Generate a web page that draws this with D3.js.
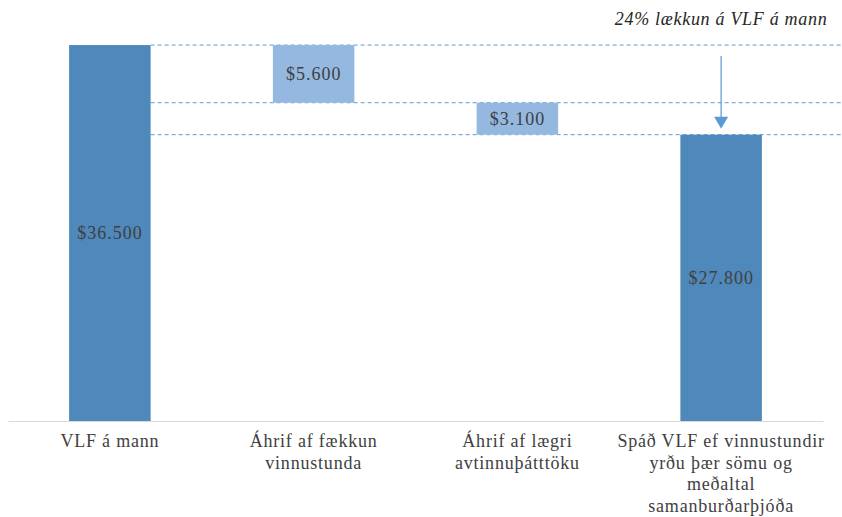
<!DOCTYPE html>
<html lang="is">
<head>
	<title> VLF á mann </title>
	<meta charset="utf-8">
	<script src="https://d3js.org/d3.v7.min.js"></script>
</head>
<style>
	body { margin: 0; background: #fff; }
	svg text { font-family: "Liberation Serif", "Times New Roman", serif; }
	.axis--x path { stroke: #d9d9d9; }
	.axis--x .tick line { display: none; }
</style>
<body>
	<svg id="waterfall" width="842" height="517"></svg>
	<script>
		// flokkar og gildi
		var categories = [
			["VLF á mann"],
			["Áhrif af fækkun", "vinnustunda"],
			["Áhrif af lægri", "avtinnuþátttöku"],
			["Spáð VLF ef vinnustundir", "yrðu þær sömu og", "meðaltal", "samanburðarþjóða"]
		];
		var values = [36500, -5600, -3100, 27800];
		var kinds = ["total", "change", "change", "total"];
		var annotation = "24% lækkun á VLF á mann";

		var svg = d3.select("#waterfall");
		var left = 8, right = 823, base = 421;

		var x = d3.scaleBand().domain(d3.range(categories.length))
			.range([left, right]).paddingInner(0.6).paddingOuter(0.3);
		var y = d3.scaleLinear().domain([0, 40000]).range([base, 9]);

		var is = d3.formatLocale({decimal: ",", thousands: ".", grouping: [3], currency: ["$", ""]});
		var fmt = is.format("$,.0f");

		// reikna upphaf og enda hverrar súlu
		var running = 0;
		var bars = values.map(function(v, i) {
			var b;
			if (kinds[i] == "total") { b = {lo: 0, hi: v}; running = v; }
			else { b = {lo: running + v, hi: running}; running = running + v; }
			b.i = i; b.v = Math.abs(v); b.kind = kinds[i];
			return b;
		});

		// brotnar línur
		var levels = [bars[0].hi, bars[1].lo, bars[2].lo];
		svg.selectAll(".guide").data(levels).enter().append("line")
			.attr("class", "guide")
			.attr("x1", x(0) + x.bandwidth())
			.attr("x2", 842)
			.attr("y1", function(d) { return y(d); })
			.attr("y2", function(d) { return y(d); })
			.attr("stroke", "#5b9bd5")
			.attr("stroke-width", 1)
			.attr("stroke-dasharray", "4,3");

		svg.selectAll(".bar").data(bars).enter().append("rect")
			.attr("class", "bar")
			.attr("x", function(d) { return x(d.i); })
			.attr("y", function(d) { return y(d.hi); })
			.attr("width", x.bandwidth())
			.attr("height", function(d) { return y(d.lo) - y(d.hi); })
			.attr("fill", function(d) { return d.kind == "total" ? "#4f88bb" : "#95b8e0"; });

		svg.selectAll(".val").data(bars).enter().append("text")
			.attr("class", "val")
			.attr("x", function(d) { return x(d.i) + x.bandwidth() / 2; })
			.attr("y", function(d) { return (y(d.lo) + y(d.hi)) / 2; })
			.attr("dy", "0.35em")
			.attr("text-anchor", "middle")
			.attr("font-size", 18)
			.attr("letter-spacing", 1)
			.attr("fill", "#404040")
			.text(function(d) { return fmt(d.v); });

		// x ás
		var axis = svg.append("g")
			.attr("class", "axis axis--x")
			.attr("transform", "translate(0," + base + ")")
			.call(d3.axisBottom(x).tickSize(0).tickSizeOuter(0).tickFormat(""));
		axis.select(".domain").attr("stroke", "#d9d9d9");

		axis.selectAll(".tick").each(function(i) {
			var t = d3.select(this).append("text")
				.attr("fill", "#404040")
				.attr("font-size", 18)
				.attr("letter-spacing", 0.8)
				.attr("text-anchor", "middle")
				.attr("y", 26);
			categories[i].forEach(function(line, k) {
				t.append("tspan").attr("x", 0).attr("dy", k == 0 ? 0 : 21.5).text(line);
			});
		});

		// ör og skýring
		var cx = x(3) + x.bandwidth() / 2;
		svg.append("text")
			.attr("x", cx).attr("y", 25)
			.attr("text-anchor", "middle")
			.attr("font-size", 18)
			.attr("letter-spacing", 0.7)
			.attr("font-style", "italic")
			.attr("fill", "#262626")
			.text(annotation);

		var tip = y(bars[3].hi) - 6;
		svg.append("line")
			.attr("x1", cx).attr("x2", cx)
			.attr("y1", 56).attr("y2", tip - 10)
			.attr("stroke", "#5b9bd5").attr("stroke-width", 1.25);
		svg.append("path")
			.attr("d", "M" + (cx - 7) + "," + (tip - 12) + "L" + (cx + 7) + "," + (tip - 12) + "L" + cx + "," + tip + "Z")
			.attr("fill", "#5b9bd5");
	</script>
</body>
</html>
